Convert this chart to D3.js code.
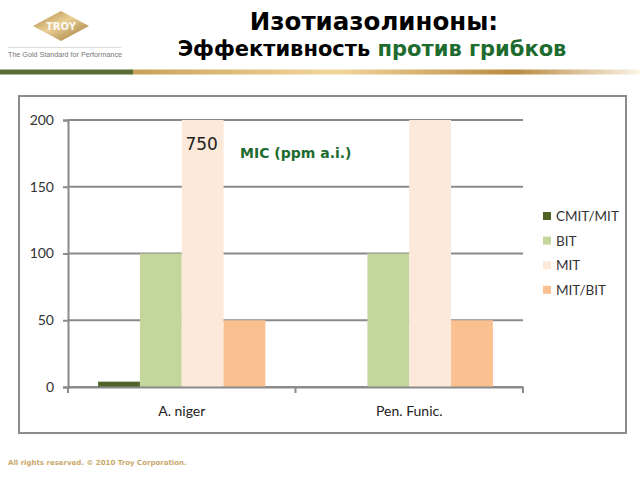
<!DOCTYPE html>
<html><head><meta charset="utf-8">
<script src="https://cdn.jsdelivr.net/npm/d3@7"></script>
<style>html,body{margin:0;padding:0;background:#fff;}svg{display:block;}</style>
</head><body>
<script>
const categories = ["A. niger", "Pen. Funic."];
const seriesNames = ["CMIT/MIT", "BIT", "MIT", "MIT/BIT"];
const cmitMit = [4, 0];
const bit = [100, 100];
const mit = [750, 750];
const mitBit = [50, 50];
const yTicks = [0, 50, 100, 150, 200];
const seriesValues = [cmitMit, bit, mit, mitBit];
const colors = ["#4f6228", "#c3d69b", "#fde9d9", "#fac090"];

const W = 640, H = 480;
const svg = d3.select("body").append("svg").attr("width", W).attr("height", H);

// gradient bar
const defs = svg.append("defs");
const g1 = defs.append("linearGradient").attr("id", "gold").attr("x1", "0").attr("x2", "1");
[[0, "#c8a158"], [0.4, "#f2d79c"], [0.75, "#b98a40"], [1, "#fbf4e8"]].forEach(s =>
  g1.append("stop").attr("offset", s[0]).attr("stop-color", s[1]));
const g2 = defs.append("linearGradient").attr("id", "logo").attr("x1", "0").attr("y1", "0").attr("x2", "1").attr("y2", "1");
[[0, "#a8823e"], [0.45, "#e9cf94"], [1, "#9b7535"]].forEach(s =>
  g2.append("stop").attr("offset", s[0]).attr("stop-color", s[1]));

svg.append("rect").attr("x", 133).attr("y", 69.5).attr("width", 507).attr("height", 5).attr("fill", "url(#gold)");
svg.append("rect").attr("x", 0).attr("y", 69.5).attr("width", 133).attr("height", 5).attr("fill", "#5b6b35");

// logo
svg.append("path").attr("d", "M61,11 L89,26 L61,41 L33,26 Z").attr("fill", "url(#logo)");
svg.append("text").attr("x", 61).attr("y", 30).attr("text-anchor", "middle")
  .attr("font-family", "DejaVu Sans").attr("font-weight", "bold").attr("font-size", 10)
  .attr("fill", "#fff").attr("opacity", 0.9).text("TROY");
svg.append("line").attr("x1", 8).attr("x2", 121).attr("y1", 47.5).attr("y2", 47.5).attr("stroke", "#ddd").attr("stroke-width", 1);
svg.append("text").attr("x", 8).attr("y", 57).attr("font-family", "Liberation Sans").attr("font-size", 7.2)
  .attr("fill", "#777").attr("textLength", 114).text("The Gold Standard for Performance");

// titles
svg.append("text").attr("x", 374).attr("y", 30).attr("text-anchor", "middle")
  .attr("font-family", "DejaVu Sans").attr("font-weight", "bold").attr("font-size", 24.5)
  .attr("fill", "#000").text("Изотиазолиноны:");
const t2 = svg.append("text").attr("x", 372).attr("y", 56).attr("text-anchor", "middle")
  .attr("font-family", "DejaVu Sans").attr("font-weight", "bold").attr("font-size", 21);
t2.append("tspan").attr("fill", "#000").text("Эффективность ");
t2.append("tspan").attr("fill", "#1e6b30").text("против грибков");

// frame
svg.append("rect").attr("x", 19).attr("y", 96).attr("width", 607).attr("height", 337)
  .attr("fill", "none").attr("stroke", "#8c8c8c").attr("stroke-width", 2);

// chart
const pLeft = 68, pRight = 523, pTop = 120, pBottom = 387;
const x = d3.scaleBand().domain(categories).range([pLeft, pRight]).padding(0);
const xs = d3.scaleBand().domain(seriesNames).range([0, x.bandwidth()]).paddingInner(0).paddingOuter(0.72);
const y = d3.scaleLinear().domain([0, 200]).range([pBottom, pTop]).clamp(true);

const gridColor = "#8a8a8a";
svg.append("g").selectAll("line").data(yTicks).join("line")
  .attr("x1", pLeft).attr("x2", pRight).attr("y1", d => y(d)).attr("y2", d => y(d))
  .attr("stroke", gridColor).attr("stroke-width", 2);

const yAxis = svg.append("g").attr("transform", `translate(${pLeft},0)`)
  .call(d3.axisLeft(y).tickValues(yTicks).tickSize(5).tickPadding(9));
yAxis.select(".domain").attr("stroke", gridColor).attr("stroke-width", 2);
yAxis.selectAll(".tick line").attr("stroke", gridColor).attr("stroke-width", 2);
yAxis.selectAll("text").attr("font-family", "Lato").attr("font-size", 14).attr("fill", "#333");

// bars
categories.forEach((c, ci) => {
  svg.append("g").selectAll("rect").data(seriesNames.map((s, si) => ({ s, si, v: seriesValues[si][ci] })))
    .join("rect")
    .attr("x", d => x(c) + xs(d.s)).attr("width", xs.bandwidth())
    .attr("y", d => y(d.v)).attr("height", d => y(0) - y(d.v))
    .attr("fill", d => colors[d.si]);
});

const xAxis = svg.append("g").attr("transform", `translate(0,${pBottom})`)
  .call(d3.axisBottom(x).tickSize(0).tickPadding(19));
xAxis.select(".domain").attr("stroke", gridColor).attr("stroke-width", 2);
xAxis.selectAll("text").attr("font-family", "Lato").attr("font-size", 14).attr("fill", "#222");
svg.append("g").selectAll("line").data([pLeft, x(categories[1]), pRight]).join("line")
  .attr("x1", d => d).attr("x2", d => d).attr("y1", pBottom).attr("y2", pBottom + 6)
  .attr("stroke", gridColor).attr("stroke-width", 2);

// annotations
svg.append("text").attr("x", x(categories[0]) + xs("MIT") + xs.bandwidth() / 2 - 1).attr("y", 150)
  .attr("text-anchor", "middle").attr("font-family", "DejaVu Sans").attr("font-size", 17)
  .attr("fill", "#222").text(String(mit[0]));
svg.append("text").attr("x", 240).attr("y", 158).attr("font-family", "DejaVu Sans")
  .attr("font-weight", "bold").attr("font-size", 14).attr("fill", "#1e6b30").text("MIC (ppm a.i.)");

// legend
const lg = svg.append("g").selectAll("g").data(seriesNames).join("g")
  .attr("transform", (d, i) => `translate(543,${216 + i * 24.6})`);
lg.append("rect").attr("x", 0).attr("y", -4).attr("width", 8).attr("height", 8).attr("fill", (d, i) => colors[i]);
lg.append("text").attr("x", 13).attr("y", 5).attr("font-family", "Lato").attr("font-size", 13.5)
  .attr("fill", "#333").text(d => d);

// footer
svg.append("text").attr("x", 8).attr("y", 465).attr("font-family", "DejaVu Sans").attr("font-weight", "bold")
  .attr("font-size", 7).attr("fill", "#c9a86a").text("All rights reserved. © 2010 Troy Corporation.");
</script>
</body></html>
